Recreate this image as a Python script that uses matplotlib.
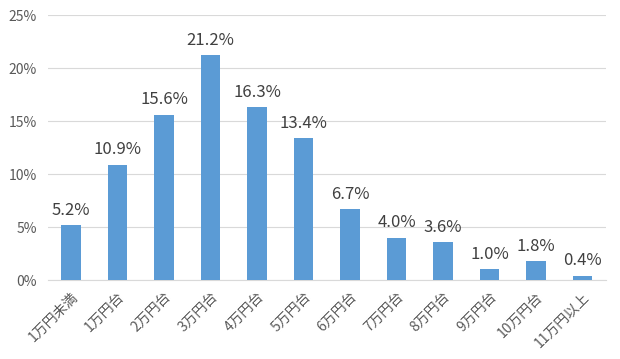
import matplotlib
matplotlib.use("Agg")
import matplotlib.pyplot as plt
from matplotlib.ticker import FuncFormatter

plt.rcParams['font.family'] = ['Noto Sans CJK JP', 'DejaVu Sans']

# データ
categories = ['1万円未満', '1万円台', '2万円台', '3万円台', '4万円台', '5万円台',
              '6万円台', '7万円台', '8万円台', '9万円台', '10万円台', '11万円以上']
values = [5.2, 10.9, 15.6, 21.2, 16.3, 13.4, 6.7, 4.0, 3.6, 1.0, 1.8, 0.4]
yticks = [0, 5, 10, 15, 20, 25]

fig = plt.figure(figsize=(6.2, 3.59), dpi=100)
ax = fig.add_axes([0.077, 0.22, 0.90, 0.738])

x = range(len(categories))
bars = ax.bar(x, values, width=0.41, color='#5b9bd5', zorder=3)

for xi, v in zip(x, values):
    ax.text(xi, v + 0.6, f'{v:.1f}%', ha='center', va='bottom',
            fontsize=12, color='#404040')

ax.set_xlim(-0.5, len(categories) - 0.5)
ax.set_ylim(0, 25)
ax.set_yticks(yticks)
ax.yaxis.set_major_formatter(FuncFormatter(lambda v, p: f'{v:.0f}%'))
ax.grid(axis='y', color='#d9d9d9', linewidth=0.8, zorder=0)
ax.set_xticks(list(x))
ax.set_xticklabels(categories, rotation=45, ha='right', rotation_mode='anchor',
                   fontsize=10, color='#595959')
for lbl in ax.get_yticklabels():
    lbl.set_color('#595959')
    lbl.set_fontsize(10)
ax.tick_params(axis='y', length=0, pad=8)
ax.tick_params(axis='x', length=0, pad=7)
for s in ['top', 'right', 'left']:
    ax.spines[s].set_visible(False)
ax.spines['bottom'].set_color('#d9d9d9')

fig.savefig('out.png', dpi=100)
